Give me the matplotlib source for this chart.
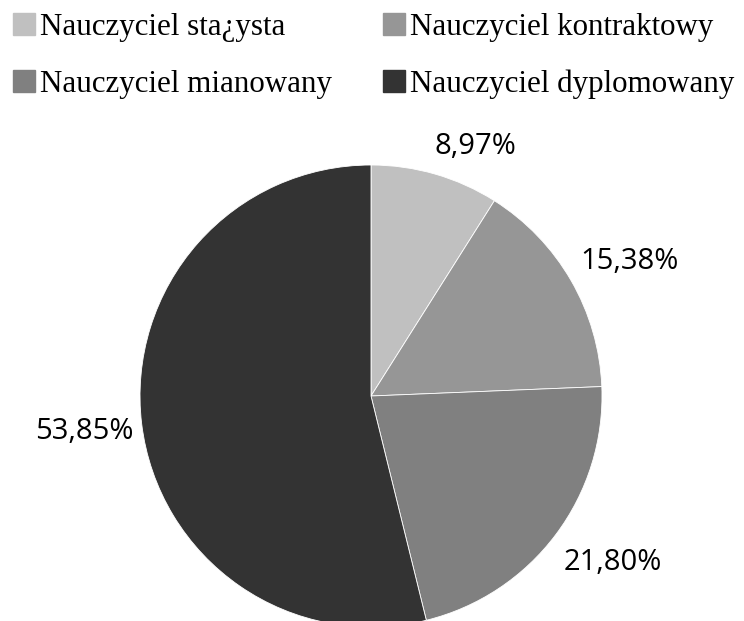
import matplotlib
matplotlib.use('Agg')
import matplotlib.pyplot as plt
from matplotlib.patches import Rectangle
import numpy as np

categories = ['Nauczyciel sta¿ysta', 'Nauczyciel kontraktowy',
              'Nauczyciel mianowany', 'Nauczyciel dyplomowany']
shares = [8.97, 15.38, 21.80, 53.85]
pct_labels = ['8,97%', '15,38%', '21,80%', '53,85%']
colors = ['#c0c0c0', '#969696', '#808080', '#333333']

# label placement (degrees, radius) - roughly where the original put them
label_angle = [67.3, 27.4, -34.6, 187.0]
label_dist = [1.17, 1.262, 1.273, 1.25]

W, H = 744, 621
fig = plt.figure(figsize=(W / 100, H / 100), dpi=100)

cx, cy, r = 371, 225, 231
ax = fig.add_axes([(cx - r) / W, (cy - r) / H, 2 * r / W, 2 * r / H])
ax.pie(shares, colors=colors, startangle=90, counterclock=False,
       wedgeprops=dict(edgecolor='white', linewidth=0.6))
ax.set_xlim(-1, 1)
ax.set_ylim(-1, 1)
ax.set_aspect('equal')
ax.axis('off')

for lab, a, d in zip(pct_labels, label_angle, label_dist):
    t = np.deg2rad(a)
    ax.text(d * np.cos(t), d * np.sin(t), lab, ha='center', va='center',
            fontsize=21, family='Open Sans', color='black', clip_on=False)

# legend, two columns
col_x = [13, 383]
row_y = [35, 92]
sq = 22
for i, (name, c) in enumerate(zip(categories, colors)):
    x = col_x[i % 2]
    y = row_y[i // 2]
    fig.patches.append(Rectangle((x / W, (H - y) / H), sq / W, sq / H,
                                 transform=fig.transFigure, color=c))
    fig.text((x + sq + 5) / W, (H - y) / H, name, ha='left', va='baseline',
             fontsize=22.3, family='Liberation Serif', color='black')

fig.savefig('out.png', dpi=100)
